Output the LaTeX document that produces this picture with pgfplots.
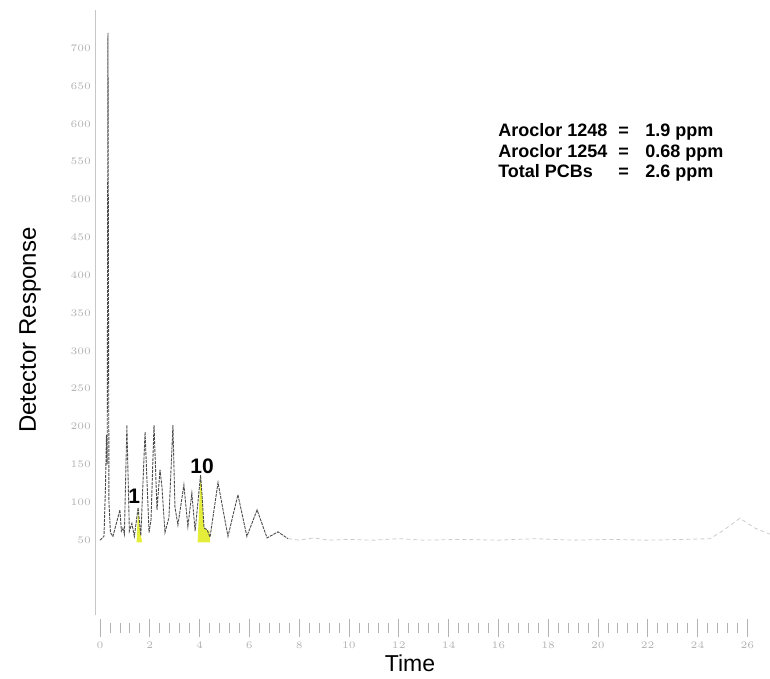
\documentclass[border=0pt]{standalone}
\usepackage{pgfplots}
\pgfplotsset{compat=1.18}
\usepackage{pgfplotstable}
\usepackage{fontspec}
\setmainfont{Liberation Sans}

\definecolor{peakyellow}{RGB}{228,238,58}

% detector trace, peak region (time in min, response)
\pgfplotstableread{
t      r
0.00   50
0.16   55
0.22   120
0.26   189
0.29   150
0.32   720
0.36   100
0.42   60
0.52   55
0.64   70
0.80   90
0.86   62
0.92   66
0.98   58
1.08   202
1.18   62
1.28   72
1.38   55
1.53   93
1.64   56
1.81   193
1.97   60
2.05   77
2.17   202
2.29   90
2.41   143
2.49   120
2.61   60
2.77   80
2.93   202
3.01   94
3.13   70
3.37   123
3.53   68
3.69   112
3.82   62
4.04   136
4.10   110
4.18   66
4.30   64
4.42   54
4.74   126
5.14   55
5.54   110
5.90   55
6.31   90
6.71   53
7.15   61
7.55   52
}\peaks

% baseline after the peaks
\pgfplotstableread{
t      r
7.55   52
8.00   50
8.60   53
9.20   50
10.0   51
11.0   50
12.0   52
13.0   50
14.5   51
16.0   50
17.5   52
19.0   50
20.5   51
22.0   50
23.5   51
24.5   52
25.0   62
25.7   79
26.3   66
26.9   58
}\tail

\begin{document}
\begin{tikzpicture}
\begin{axis}[
    scale only axis,
    width=337.5pt, height=309pt,
    xmin=-0.2, xmax=26.91,
    ymin=-66, ymax=750.3,
    clip mode=individual,
    axis line style={draw=none},
    xtick={0,2,...,26},
    minor x tick num=4,
    xtick pos=bottom,
    ytick={50,100,...,700},
    ytick pos=left,
    tick align=center,
    major tick length=9pt,
    minor tick length=5pt,
    every tick/.style={gray!60, line width=0.4pt},
    y tick style={draw=none},
    xticklabel style={font=\fontsize{4.5}{5}\selectfont, text=gray!60, yshift=1pt},
    yticklabel style={font=\fontsize{4.5}{5}\selectfont, text=gray!60, xshift=6pt},
]
\draw[gray!45, line width=0.5pt] (axis cs:-0.2,-49) -- (axis cs:-0.2,750);
\addplot[fill=peakyellow, draw=none] coordinates {
    (1.47,47) (1.53,93) (1.58,70) (1.69,47)} -- cycle;
\addplot[fill=peakyellow, draw=none] coordinates {
    (3.92,47) (4.04,136) (4.10,110) (4.18,66) (4.40,62) (4.42,47)} -- cycle;
\addplot[black!70, line width=0.45pt, dash pattern=on 1.5pt off 0.5pt] table[x=t, y=r] {\peaks};
\addplot[gray!40, line width=0.4pt, dash pattern=on 2pt off 1.5pt] table[x=t, y=r] {\tail};

\node[font=\bfseries\fontsize{10.5}{12}\selectfont] at (axis cs:1.37,108) {1};
\node[font=\bfseries\fontsize{10.5}{12}\selectfont] at (axis cs:4.10,148) {10};

\begin{scope}[every node/.style={font=\bfseries\fontsize{9}{10}\selectfont, anchor=base west, inner sep=0pt}]
\node at (axis cs:15.98,582.6) {Aroclor 1248};
\node at (axis cs:15.98,556.1) {Aroclor 1254};
\node at (axis cs:15.98,529.7) {Total PCBs};
\node at (axis cs:20.80,582.6) {=};
\node at (axis cs:20.80,556.1) {=};
\node at (axis cs:20.80,529.7) {=};
\node at (axis cs:21.89,582.6) {1.9 ppm};
\node at (axis cs:21.89,556.1) {0.68 ppm};
\node at (axis cs:21.89,529.7) {2.6 ppm};
\end{scope}

\node[font=\fontsize{11.5}{13}\selectfont] at (axis cs:12.45,-113) {Time};
\node[font=\fontsize{12}{14}\selectfont, rotate=90] at (axis cs:-2.81,327.6) {Detector Response};

\coordinate (bbsw) at (axis cs:-4.016,-128.1);
\coordinate (bbne) at (axis cs:26.91,763.5);
\end{axis}
\path (bbsw) rectangle (bbne);
\end{tikzpicture}
\end{document}
